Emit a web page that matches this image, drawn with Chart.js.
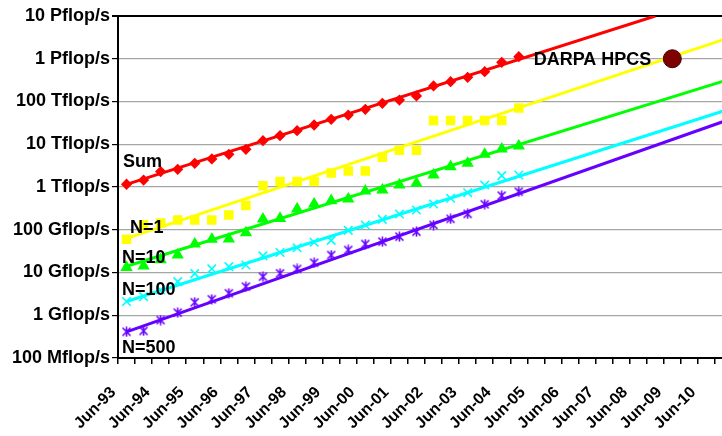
<!DOCTYPE html>
<html lang="en">
<head>
    <meta charset="UTF-8">
    <title>TOP500 Performance Development</title>
    <style>
        html, body {
            margin: 0;
            padding: 0;
            overflow: hidden;
            background: white;
        }
        .wrap {
            width: 722px;
            height: 436px;
            overflow: hidden; /* plot runs a few pixels past the right edge, like the original */
        }
        #perfChart {
            display: block;
        }
    </style>
    <script src="https://cdn.jsdelivr.net/npm/chart.js"></script>
</head>
<body>
    <div class="wrap">
        <canvas id="perfChart" width="742" height="436"></canvas>
    </div>

    <script>
        // half-year lists, Jun and Nov
        const categories = [
            'Jun-93', 'Nov-93', 'Jun-94', 'Nov-94', 'Jun-95', 'Nov-95', 'Jun-96', 'Nov-96',
            'Jun-97', 'Nov-97', 'Jun-98', 'Nov-98', 'Jun-99', 'Nov-99', 'Jun-00', 'Nov-00',
            'Jun-01', 'Nov-01', 'Jun-02', 'Nov-02', 'Jun-03', 'Nov-03', 'Jun-04', 'Nov-04',
            'Jun-05', 'Nov-05', 'Jun-06', 'Nov-06', 'Jun-07', 'Nov-07', 'Jun-08', 'Nov-08',
            'Jun-09', 'Nov-09', 'Jun-10', 'Nov-10'
        ];

        // measured values in Gflop/s, Jun-93 .. Nov-04
        const sumValues = [1160, 1450, 2300, 2600, 3590, 4520, 5820, 7600, 12100, 15900, 20700, 28200,
            38300, 48300, 65800, 90800, 108000, 135000, 231000, 290000, 368000, 498000, 826000, 1117000];
        const n1Values = [60, 130, 143, 170, 170, 170, 220, 368, 1068, 1338, 1338, 1338,
            2121, 2379, 2379, 4938, 7226, 7226, 35860, 35860, 35860, 35860, 35860, 70720];
        const n10Values = [13.2, 14.2, 20, 25.7, 46.4, 59.9, 60.8, 85, 178, 185, 306, 400,
            478, 524, 805, 851, 1114, 1222, 1910, 2985, 3590, 5820, 7740, 9100];
        const n100Values = [2.1, 2.72, 3.9, 6.1, 9.4, 12.2, 13.7, 15, 24.5, 29.4, 37.8, 51,
            56.5, 96.8, 129, 175, 233, 290, 400, 545, 736, 1110, 1840, 1910];
        const n500Values = [0.41, 0.43, 0.77, 1.15, 2.01, 2.36, 3.26, 4.66, 7.98, 9.57, 12.1, 16.9,
            25.6, 33.6, 46.4, 52.6, 68.9, 90, 129, 180, 235, 394, 627, 776];

        // extrapolation lines, read at their ends
        const sumTrend = [{ x: 'Jun-93', y: 1150 }, { x: 'Nov-08', y: 1e7 }];
        const n1Trend = [{ x: 'Jun-93', y: 63 }, { x: 'Nov-10', y: 2.8e6 }];
        const n10Trend = [{ x: 'Jun-93', y: 14 }, { x: 'Nov-10', y: 3.0e5 }];
        const n100Trend = [{ x: 'Jun-93', y: 2.1 }, { x: 'Nov-10', y: 6.0e4 }];
        const n500Trend = [{ x: 'Jun-93', y: 0.41 }, { x: 'Nov-10', y: 3.4e4 }];

        const darpaPoint = [{ x: 'Jun-09', y: 1e6 }];

        const yTickValues = [0.1, 1, 10, 100, 1e3, 1e4, 1e5, 1e6, 1e7];
        const yTickLabels = ['100 Mflop/s', '1 Gflop/s', '10 Gflop/s', '100 Gflop/s', '1 Tflop/s',
            '10 Tflop/s', '100 Tflop/s', '1 Pflop/s', '10 Pflop/s'];

        const RED = '#ff0000';
        const YELLOW = '#ffff00';
        const GREEN = '#00ff00';
        const CYAN = '#00ffff';
        const PURPLE = '#6600ff';

        // asterisk marker like the spreadsheet one
        function makeStar(color) {
            const c = document.createElement('canvas');
            c.width = 11;
            c.height = 11;
            const g = c.getContext('2d');
            g.strokeStyle = color;
            g.lineWidth = 1.6;
            g.beginPath();
            g.moveTo(5.5, 0.5); g.lineTo(5.5, 10.5);
            g.moveTo(1.5, 1.5); g.lineTo(9.5, 9.5);
            g.moveTo(9.5, 1.5); g.lineTo(1.5, 9.5);
            g.stroke();
            return c;
        }

        function trendLine(data, color) {
            return {
                data: data,
                borderColor: color,
                borderWidth: 3,
                pointRadius: 0,
                fill: false,
                order: 2
            };
        }

        function markers(data, color, style, radius) {
            return {
                data: data,
                showLine: false,
                pointStyle: style,
                pointRadius: radius,
                backgroundColor: color,
                borderColor: color,
                borderWidth: 1.6,
                order: 1
            };
        }

        // text labels drawn on the plot
        const textLabels = {
            id: 'textLabels',
            afterDatasetsDraw(chart) {
                const ctx = chart.ctx;
                const y = chart.scales.y;
                const x = chart.scales.x;
                const left = chart.chartArea.left;
                ctx.save();
                ctx.font = 'bold 18px "Liberation Sans", Arial, sans-serif';
                ctx.fillStyle = '#000';
                ctx.textBaseline = 'middle';
                ctx.textAlign = 'left';
                ctx.fillText('Sum', left + 5, y.getPixelForValue(3900));
                ctx.fillText('N=1', left + 12, y.getPixelForValue(110));
                ctx.fillText('N=10', left + 4, y.getPixelForValue(22));
                ctx.fillText('N=100', left + 4, y.getPixelForValue(3.9));
                ctx.fillText('N=500', left + 4, y.getPixelForValue(0.167));
                ctx.textAlign = 'right';
                ctx.fillText('DARPA HPCS', x.getPixelForValue(32) - 21, y.getPixelForValue(1e6) + 1);
                ctx.restore();
            }
        };

        const perfChart = new Chart(document.getElementById('perfChart'), {
            type: 'line',
            data: {
                labels: categories,
                datasets: [
                    trendLine(sumTrend, RED),
                    trendLine(n1Trend, YELLOW),
                    trendLine(n10Trend, GREEN),
                    trendLine(n100Trend, CYAN),
                    trendLine(n500Trend, PURPLE),
                    markers(sumValues, RED, 'rectRot', 4.5),
                    markers(n1Values, YELLOW, 'rect', 5.6),
                    markers(n10Values, GREEN, 'triangle', 5.5),
                    markers(n100Values, CYAN, 'crossRot', 6),
                    markers(n500Values, PURPLE, makeStar(PURPLE), 5),
                    {
                        data: darpaPoint,
                        showLine: false,
                        pointStyle: 'circle',
                        pointRadius: 9,
                        backgroundColor: '#800000',
                        borderColor: '#3a0000',
                        borderWidth: 1,
                        order: 0
                    }
                ]
            },
            plugins: [textLabels],
            options: {
                responsive: false,
                animation: false,
                devicePixelRatio: 1,
                layout: { padding: { top: 16, right: 0, bottom: 0, left: 0 } },
                plugins: {
                    legend: { display: false },
                    tooltip: { enabled: false }
                },
                scales: {
                    x: {
                        type: 'category',
                        offset: true,
                        afterFit(scale) {
                            scale.height = 78;
                            // no extra room for the rotated labels
                            scale.paddingLeft = 0;
                            scale.paddingRight = 0;
                        },
                        grid: {
                            offset: true,
                            drawOnChartArea: false,
                            drawTicks: true,
                            tickLength: 6,
                            tickColor: '#000',
                            lineWidth: 1.5
                        },
                        border: { color: '#000', width: 2 },
                        ticks: {
                            autoSkip: false,
                            maxRotation: 45,
                            minRotation: 45,
                            padding: 19,
                            labelOffset: -13,
                            color: '#000',
                            font: { family: '"Liberation Sans", Arial, sans-serif', size: 16, weight: 'bold' },
                            callback: function (value, index) {
                                return index % 2 === 0 ? categories[index] : '';
                            }
                        }
                    },
                    y: {
                        type: 'logarithmic',
                        min: 0.1,
                        max: 1e7,
                        afterFit(scale) { scale.width = 118; },
                        afterBuildTicks(scale) {
                            scale.ticks = yTickValues.map(v => ({ value: v }));
                        },
                        grid: {
                            color: (c) => (c.tick && c.tick.value === 1e7 ? '#000' : '#a6a6a6'),
                            lineWidth: (c) => (c.tick && c.tick.value === 1e7 ? 2 : 1.2),
                            tickLength: 6,
                            tickColor: '#000'
                        },
                        border: { color: '#000', width: 2 },
                        ticks: {
                            padding: 2,
                            color: '#000',
                            font: { family: '"Liberation Sans", Arial, sans-serif', size: 18, weight: 'bold' },
                            callback: function (value, index) {
                                return yTickLabels[index];
                            }
                        }
                    }
                }
            }
        });
    </script>
</body>
</html>
